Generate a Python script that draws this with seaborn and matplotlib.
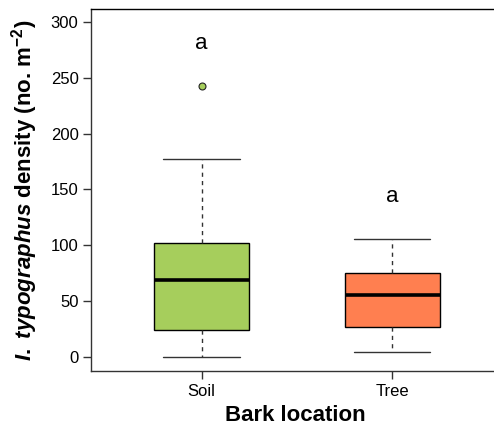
import numpy as np
import pandas as pd
import matplotlib
matplotlib.use("Agg")
import matplotlib.pyplot as plt
import seaborn as sns

# Box summaries for I. typographus density by bark location
locations = ["Soil", "Tree"]
lower_whisker = [0.0, 4.5]
q1 = [24.2, 26.5]
median = [68.6, 55.2]
q3 = [101.7, 74.9]
upper_whisker = [177.5, 105.9]
outliers = [[242.9], []]
box_colors = ["#A6CE5C", "#FF7F50"]
letters = ["a", "a"]
letter_y = [281, 144]
y_ticks = [0, 50, 100, 150, 200, 250, 300]

# Expand each summary into a small sample whose quartiles reproduce it
rows = []
for loc, lo, a, m, b, hi, out in zip(locations, lower_whisker, q1, median, q3,
                                      upper_whisker, outliers):
    if out:
        vals = [lo, a, a, m, m, m, b, hi] + out
    else:
        vals = [lo, a, a, m, m, m, b, b, hi]
    rows += [(loc, v) for v in vals]
df = pd.DataFrame(rows, columns=["location", "density"])

sns.set_theme(style="ticks")
plt.rcParams["font.family"] = ["Liberation Sans", "DejaVu Sans"]
plt.rcParams["mathtext.fontset"] = "custom"
plt.rcParams["mathtext.rm"] = "Liberation Sans:bold"
plt.rcParams["mathtext.it"] = "Liberation Sans:italic:bold"
plt.rcParams["mathtext.bf"] = "Liberation Sans:bold"
plt.rcParams["text.color"] = "black"
plt.rcParams["axes.labelcolor"] = "black"

fig = plt.figure(figsize=(4.94, 4.30), dpi=100)
ax = fig.add_axes([91 / 494, 59 / 430, 1 - 91 / 494 + 0.01, (371 - 9) / 430])

sns.boxplot(
    data=df, x="location", y="density", hue="location", order=locations,
    palette=box_colors, saturation=1, legend=False, width=0.5, ax=ax,
    linecolor="black", linewidth=1.0,
    boxprops=dict(edgecolor="black", linewidth=1.0),
    medianprops=dict(color="black", linewidth=2.6),
    whiskerprops=dict(color="#333333", linewidth=1.0, linestyle=(0, (3, 3))),
    capprops=dict(color="#333333", linewidth=1.0),
    flierprops=dict(marker="o", markersize=5, markerfacecolor=box_colors[0],
                    markeredgecolor="#222222", markeredgewidth=0.8),
    capwidths=0.4,
)

for i, (t, y) in enumerate(zip(letters, letter_y)):
    ax.text(i, y, t, ha="center", va="center", fontsize=16, color="black")

ax.set_xlim(-0.58, 1.56)
ax.set_ylim(-12.5, 311.6)
ax.set_yticks(y_ticks)
ax.set_yticklabels([str(v) for v in y_ticks])
ax.tick_params(axis="both", labelsize=12, length=6, width=1.0, color="#333333",
               labelcolor="black", pad=3)

for side in ["left", "bottom", "top"]:
    ax.spines[side].set_visible(True)
    ax.spines[side].set_color("#333333")
    ax.spines[side].set_linewidth(1.0)
ax.spines["top"].set_color("black")
ax.spines["right"].set_visible(False)

ax.set_xlabel("Bark location", fontsize=16, fontweight="bold", labelpad=5,
              color="black")
ax.set_ylabel(r"$\mathit{I.\ typographus}$ density (no. m$^{-2}$)",
              fontsize=16, fontweight="bold", color="black")
ax.yaxis.set_label_coords(-0.125, 0.5)

fig.savefig("out.png", dpi=100)
